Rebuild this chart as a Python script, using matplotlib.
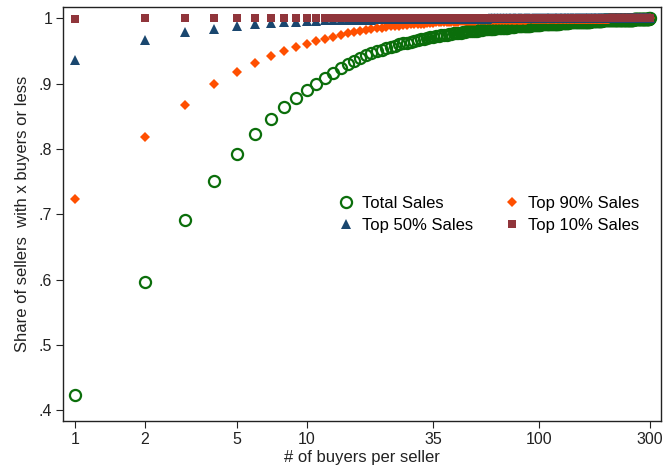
import numpy as np
import matplotlib
matplotlib.use("Agg")
import matplotlib.pyplot as plt

plt.rcParams["font.family"] = ["Liberation Sans", "DejaVu Sans"]

# number of buyers per seller
buyers = list(range(1, 301))

# cumulative share of sellers with x buyers or less
total_sales = [
    0.423, 0.596, 0.691, 0.751, 0.793, 0.823, 0.846, 0.864, 0.878, 0.890,
    0.900, 0.909, 0.917, 0.924, 0.930, 0.935, 0.940, 0.944, 0.947, 0.950,
    0.952, 0.954, 0.956, 0.958, 0.960, 0.962, 0.963, 0.964, 0.966, 0.967,
    0.968, 0.969, 0.970, 0.971, 0.972, 0.973, 0.973, 0.974, 0.975, 0.975,
    0.976, 0.976, 0.977, 0.977, 0.978, 0.978, 0.979, 0.979, 0.980, 0.980,
    0.980, 0.981, 0.981, 0.981, 0.982, 0.982, 0.982, 0.983, 0.983, 0.983,
    0.984, 0.984, 0.984, 0.984, 0.985, 0.985, 0.985, 0.985, 0.986, 0.986,
    0.986, 0.986, 0.986, 0.987, 0.987, 0.987, 0.987, 0.987, 0.988, 0.988,
    0.988, 0.988, 0.988, 0.988, 0.988, 0.989, 0.989, 0.989, 0.989, 0.989,
    0.989, 0.989, 0.990, 0.990, 0.990, 0.990, 0.990, 0.990, 0.990, 0.990,
    0.990, 0.991, 0.991, 0.991, 0.991, 0.991, 0.991, 0.991, 0.991, 0.991,
    0.991, 0.992, 0.992, 0.992, 0.992, 0.992, 0.992, 0.992, 0.992, 0.992,
    0.992, 0.992, 0.993, 0.993, 0.993, 0.993, 0.993, 0.993, 0.993, 0.993,
    0.993, 0.993, 0.993, 0.993, 0.994, 0.994, 0.994, 0.994, 0.994, 0.994,
    0.994, 0.994, 0.994, 0.994, 0.994, 0.994, 0.994, 0.995, 0.995, 0.995,
    0.995, 0.995, 0.995, 0.995, 0.995, 0.995, 0.995, 0.995, 0.995, 0.995,
    0.995, 0.995, 0.995, 0.995, 0.995, 0.995, 0.996, 0.996, 0.996, 0.996,
    0.996, 0.996, 0.996, 0.996, 0.996, 0.996, 0.996, 0.996, 0.996, 0.996,
    0.996, 0.996, 0.996, 0.996, 0.996, 0.996, 0.996, 0.997, 0.997, 0.997,
    0.997, 0.997, 0.997, 0.997, 0.997, 0.997, 0.997, 0.997, 0.997, 0.997,
    0.997, 0.997, 0.997, 0.997, 0.997, 0.997, 0.997, 0.997, 0.997, 0.997,
    0.997, 0.997, 0.997, 0.997, 0.997, 0.998, 0.998, 0.998, 0.998, 0.998,
    0.998, 0.998, 0.998, 0.998, 0.998, 0.998, 0.998, 0.998, 0.998, 0.998,
    0.998, 0.998, 0.998, 0.998, 0.998, 0.998, 0.998, 0.998, 0.998, 0.998,
    0.998, 0.998, 0.998, 0.998, 0.998, 0.998, 0.998, 0.998, 0.998, 0.998,
    0.998, 0.998, 0.998, 0.998, 0.998, 0.999, 0.999, 0.999, 0.999, 0.999,
    0.999, 0.999, 0.999, 0.999, 0.999, 0.999, 0.999, 0.999, 0.999, 0.999,
    0.999, 0.999, 0.999, 0.999, 0.999, 0.999, 0.999, 0.999, 0.999, 0.999,
    0.999, 0.999, 0.999, 0.999, 0.999, 0.999, 0.999, 0.999, 0.999, 0.999,
    0.999, 0.999, 0.999, 0.999, 0.999, 0.999, 0.999, 0.999, 1.000, 1.000,
]

top90_sales = [
    0.724, 0.818, 0.868, 0.899, 0.918, 0.932, 0.942, 0.950, 0.956, 0.961,
    0.965, 0.969, 0.972, 0.975, 0.977, 0.979, 0.981, 0.982, 0.984, 0.985,
    0.986, 0.987, 0.988, 0.988, 0.989, 0.990, 0.990, 0.991, 0.991, 0.992,
    0.992, 0.992, 0.993, 0.993, 0.993, 0.994, 0.994, 0.994, 0.994, 0.995,
    0.995, 0.995, 0.995, 0.995, 0.995, 0.996, 0.996, 0.996, 0.996, 0.996,
    0.996, 0.996, 0.996, 0.997, 0.997, 0.997, 0.997, 0.997, 0.997, 0.997,
    0.997, 0.997, 0.997, 0.997, 0.997, 0.998, 0.998, 0.998, 0.998, 0.998,
    0.998, 0.998, 0.998, 0.998, 0.998, 0.998, 0.998, 0.998, 0.998, 0.998,
    0.998, 0.998, 0.998, 0.998, 0.998, 0.998, 0.998, 0.998, 0.999, 0.999,
    0.999, 0.999, 0.999, 0.999, 0.999, 0.999, 0.999, 0.999, 0.999, 0.999,
    0.999, 0.999, 0.999, 0.999, 0.999, 0.999, 0.999, 0.999, 0.999, 0.999,
    0.999, 0.999, 0.999, 0.999, 0.999, 0.999, 0.999, 0.999, 0.999, 0.999,
    0.999, 0.999, 0.999, 0.999, 0.999, 0.999, 0.999, 0.999, 0.999, 0.999,
    0.999, 0.999, 0.999, 0.999, 0.999, 0.999, 0.999, 0.999, 0.999, 0.999,
    0.999, 0.999, 0.999, 0.999, 0.999, 0.999, 0.999, 0.999, 0.999, 0.999,
    0.999, 0.999, 0.999, 0.999, 0.999, 0.999, 0.999, 0.999, 0.999, 0.999,
    0.999, 0.999, 0.999, 0.999, 0.999, 0.999, 0.999, 0.999, 0.999, 0.999,
    0.999, 0.999, 0.999, 0.999, 0.999, 0.999, 0.999, 0.999, 0.999, 0.999,
    0.999, 0.999, 0.999, 0.999, 0.999, 0.999, 0.999, 0.999, 0.999, 0.999,
    0.999, 0.999, 0.999, 0.999, 0.999, 0.999, 0.999, 0.999, 0.999, 0.999,
    1.000, 1.000, 1.000, 1.000, 1.000, 1.000, 1.000, 1.000, 1.000, 1.000,
    1.000, 1.000, 1.000, 1.000, 1.000, 1.000, 1.000, 1.000, 1.000, 1.000,
    1.000, 1.000, 1.000, 1.000, 1.000, 1.000, 1.000, 1.000, 1.000, 1.000,
    1.000, 1.000, 1.000, 1.000, 1.000, 1.000, 1.000, 1.000, 1.000, 1.000,
    1.000, 1.000, 1.000, 1.000, 1.000, 1.000, 1.000, 1.000, 1.000, 1.000,
    1.000, 1.000, 1.000, 1.000, 1.000, 1.000, 1.000, 1.000, 1.000, 1.000,
    1.000, 1.000, 1.000, 1.000, 1.000, 1.000, 1.000, 1.000, 1.000, 1.000,
    1.000, 1.000, 1.000, 1.000, 1.000, 1.000, 1.000, 1.000, 1.000, 1.000,
    1.000, 1.000, 1.000, 1.000, 1.000, 1.000, 1.000, 1.000, 1.000, 1.000,
    1.000, 1.000, 1.000, 1.000, 1.000, 1.000, 1.000, 1.000, 1.000, 1.000,
]

top50_sales = [
    0.936, 0.967, 0.979, 0.984, 0.988, 0.991, 0.993, 0.994, 0.995, 0.996,
    0.996, 0.997, 0.997, 0.997, 0.998, 0.998, 0.998, 0.998, 0.998, 0.999,
    0.999, 0.999, 0.999, 0.999, 0.999, 0.999, 0.999, 0.999, 0.999, 0.999,
    0.999, 0.999, 0.999, 0.999, 0.999, 0.999, 0.999, 0.999, 0.999, 0.999,
    0.999, 0.999, 0.999, 0.999, 0.999, 0.999, 0.999, 0.999, 0.999, 0.999,
    0.999, 0.999, 0.999, 0.999, 0.999, 0.999, 0.999, 0.999, 0.999, 0.999,
    1.000, 1.000, 1.000, 1.000, 1.000, 1.000, 1.000, 1.000, 1.000, 1.000,
    1.000, 1.000, 1.000, 1.000, 1.000, 1.000, 1.000, 1.000, 1.000, 1.000,
    1.000, 1.000, 1.000, 1.000, 1.000, 1.000, 1.000, 1.000, 1.000, 1.000,
    1.000, 1.000, 1.000, 1.000, 1.000, 1.000, 1.000, 1.000, 1.000, 1.000,
    1.000, 1.000, 1.000, 1.000, 1.000, 1.000, 1.000, 1.000, 1.000, 1.000,
    1.000, 1.000, 1.000, 1.000, 1.000, 1.000, 1.000, 1.000, 1.000, 1.000,
    1.000, 1.000, 1.000, 1.000, 1.000, 1.000, 1.000, 1.000, 1.000, 1.000,
    1.000, 1.000, 1.000, 1.000, 1.000, 1.000, 1.000, 1.000, 1.000, 1.000,
    1.000, 1.000, 1.000, 1.000, 1.000, 1.000, 1.000, 1.000, 1.000, 1.000,
    1.000, 1.000, 1.000, 1.000, 1.000, 1.000, 1.000, 1.000, 1.000, 1.000,
    1.000, 1.000, 1.000, 1.000, 1.000, 1.000, 1.000, 1.000, 1.000, 1.000,
    1.000, 1.000, 1.000, 1.000, 1.000, 1.000, 1.000, 1.000, 1.000, 1.000,
    1.000, 1.000, 1.000, 1.000, 1.000, 1.000, 1.000, 1.000, 1.000, 1.000,
    1.000, 1.000, 1.000, 1.000, 1.000, 1.000, 1.000, 1.000, 1.000, 1.000,
    1.000, 1.000, 1.000, 1.000, 1.000, 1.000, 1.000, 1.000, 1.000, 1.000,
    1.000, 1.000, 1.000, 1.000, 1.000, 1.000, 1.000, 1.000, 1.000, 1.000,
    1.000, 1.000, 1.000, 1.000, 1.000, 1.000, 1.000, 1.000, 1.000, 1.000,
    1.000, 1.000, 1.000, 1.000, 1.000, 1.000, 1.000, 1.000, 1.000, 1.000,
    1.000, 1.000, 1.000, 1.000, 1.000, 1.000, 1.000, 1.000, 1.000, 1.000,
    1.000, 1.000, 1.000, 1.000, 1.000, 1.000, 1.000, 1.000, 1.000, 1.000,
    1.000, 1.000, 1.000, 1.000, 1.000, 1.000, 1.000, 1.000, 1.000, 1.000,
    1.000, 1.000, 1.000, 1.000, 1.000, 1.000, 1.000, 1.000, 1.000, 1.000,
    1.000, 1.000, 1.000, 1.000, 1.000, 1.000, 1.000, 1.000, 1.000, 1.000,
    1.000, 1.000, 1.000, 1.000, 1.000, 1.000, 1.000, 1.000, 1.000, 1.000,
]

top10_sales = [
    0.999, 1.000, 1.000, 1.000, 1.000, 1.000, 1.000, 1.000, 1.000, 1.000,
    1.000, 1.000, 1.000, 1.000, 1.000, 1.000, 1.000, 1.000, 1.000, 1.000,
    1.000, 1.000, 1.000, 1.000, 1.000, 1.000, 1.000, 1.000, 1.000, 1.000,
    1.000, 1.000, 1.000, 1.000, 1.000, 1.000, 1.000, 1.000, 1.000, 1.000,
    1.000, 1.000, 1.000, 1.000, 1.000, 1.000, 1.000, 1.000, 1.000, 1.000,
    1.000, 1.000, 1.000, 1.000, 1.000, 1.000, 1.000, 1.000, 1.000, 1.000,
    1.000, 1.000, 1.000, 1.000, 1.000, 1.000, 1.000, 1.000, 1.000, 1.000,
    1.000, 1.000, 1.000, 1.000, 1.000, 1.000, 1.000, 1.000, 1.000, 1.000,
    1.000, 1.000, 1.000, 1.000, 1.000, 1.000, 1.000, 1.000, 1.000, 1.000,
    1.000, 1.000, 1.000, 1.000, 1.000, 1.000, 1.000, 1.000, 1.000, 1.000,
    1.000, 1.000, 1.000, 1.000, 1.000, 1.000, 1.000, 1.000, 1.000, 1.000,
    1.000, 1.000, 1.000, 1.000, 1.000, 1.000, 1.000, 1.000, 1.000, 1.000,
    1.000, 1.000, 1.000, 1.000, 1.000, 1.000, 1.000, 1.000, 1.000, 1.000,
    1.000, 1.000, 1.000, 1.000, 1.000, 1.000, 1.000, 1.000, 1.000, 1.000,
    1.000, 1.000, 1.000, 1.000, 1.000, 1.000, 1.000, 1.000, 1.000, 1.000,
    1.000, 1.000, 1.000, 1.000, 1.000, 1.000, 1.000, 1.000, 1.000, 1.000,
    1.000, 1.000, 1.000, 1.000, 1.000, 1.000, 1.000, 1.000, 1.000, 1.000,
    1.000, 1.000, 1.000, 1.000, 1.000, 1.000, 1.000, 1.000, 1.000, 1.000,
    1.000, 1.000, 1.000, 1.000, 1.000, 1.000, 1.000, 1.000, 1.000, 1.000,
    1.000, 1.000, 1.000, 1.000, 1.000, 1.000, 1.000, 1.000, 1.000, 1.000,
    1.000, 1.000, 1.000, 1.000, 1.000, 1.000, 1.000, 1.000, 1.000, 1.000,
    1.000, 1.000, 1.000, 1.000, 1.000, 1.000, 1.000, 1.000, 1.000, 1.000,
    1.000, 1.000, 1.000, 1.000, 1.000, 1.000, 1.000, 1.000, 1.000, 1.000,
    1.000, 1.000, 1.000, 1.000, 1.000, 1.000, 1.000, 1.000, 1.000, 1.000,
    1.000, 1.000, 1.000, 1.000, 1.000, 1.000, 1.000, 1.000, 1.000, 1.000,
    1.000, 1.000, 1.000, 1.000, 1.000, 1.000, 1.000, 1.000, 1.000, 1.000,
    1.000, 1.000, 1.000, 1.000, 1.000, 1.000, 1.000, 1.000, 1.000, 1.000,
    1.000, 1.000, 1.000, 1.000, 1.000, 1.000, 1.000, 1.000, 1.000, 1.000,
    1.000, 1.000, 1.000, 1.000, 1.000, 1.000, 1.000, 1.000, 1.000, 1.000,
    1.000, 1.000, 1.000, 1.000, 1.000, 1.000, 1.000, 1.000, 1.000, 1.000,
]

x_ticks = [1, 2, 5, 10, 35, 100, 300]
x_tick_labels = ["1", "2", "5", "10", "35", "100", "300"]
y_ticks = [0.4, 0.5, 0.6, 0.7, 0.8, 0.9, 1.0]
y_tick_labels = [".4", ".5", ".6", ".7", ".8", ".9", "1"]

fig = plt.figure(figsize=(6.65, 4.70), dpi=100)
ax = fig.add_axes([0.0952, 0.104, 0.8988, 0.881])

h_total, = ax.plot(buyers, total_sales, linestyle="none", marker="o",
                   markersize=8.0, markerfacecolor="none",
                   markeredgecolor="#0b6e0b", markeredgewidth=1.6,
                   label="Total Sales")
h_90, = ax.plot(buyers, top90_sales, linestyle="none", marker="D",
                markersize=5.4, color="#ff4f00", markeredgewidth=0,
                label="Top 90% Sales")
h_50, = ax.plot(buyers, top50_sales, linestyle="none", marker="^",
                markersize=6.6, color="#1a476f", markeredgewidth=0,
                label="Top 50% Sales")
h_10, = ax.plot(buyers, top10_sales, linestyle="none", marker="s",
                markersize=5.8, color="#90353b", markeredgewidth=0,
                label="Top 10% Sales")

ax.set_xscale("log")
ax.set_xlim(0.893, 336)
ax.set_ylim(0.3836, 1.0173)
ax.set_xticks(x_ticks)
ax.set_xticklabels(x_tick_labels)
ax.minorticks_off()
ax.set_yticks(y_ticks)
ax.set_yticklabels(y_tick_labels)
ax.tick_params(axis="both", direction="out", length=5, width=0.8,
               labelsize=11.5, colors="#222222", pad=3)

for s in ax.spines.values():
    s.set_linewidth(1.0)
    s.set_color("#222222")

ax.set_xlabel("# of buyers per seller", fontsize=12, color="#222222", labelpad=2)
ax.set_ylabel("Share of sellers  with x buyers or less", fontsize=12,
              color="#222222", labelpad=6)

ax.legend(handles=[h_total, h_50, h_90, h_10], ncol=2, frameon=False,
          fontsize=12, loc="center left", bbox_to_anchor=(0.4484, 0.4995),
          handlelength=1.0, handletextpad=0.45, columnspacing=1.85,
          labelspacing=0.43, borderaxespad=0)

fig.savefig("out.png", dpi=100)
